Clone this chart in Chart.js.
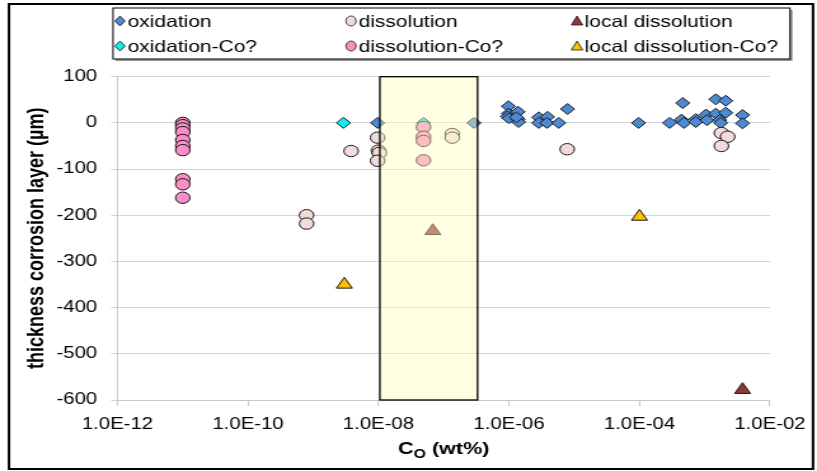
<!DOCTYPE html>
<html>
<head>
<meta charset="utf-8">
<script src="https://cdn.jsdelivr.net/npm/chart.js@4.4.1/dist/chart.umd.min.js"></script>
<style>
  html, body { margin: 0; padding: 0; background: #fff; }
  #chart { display: block; }
</style>
</head>
<body>
<!-- canvas is drawn narrow and widened by CSS, like the exported sheet -->
<canvas id="chart" width="643" height="471" style="width:817px;height:471px"></canvas>
<script>
// ─── data: [C_O (wt%), thickness (µm)] ───
const oxidation = [
  [9.7e-9, 0], [2.9e-7, 0],
  [9.8e-7, 36], [9.8e-7, 20], [9.5e-7, 14], [1.0e-6, 10],
  [1.38e-6, 24], [1.38e-6, 8], [1.4e-6, 2], [1.3e-6, 12],
  [2.86e-6, 12], [2.86e-6, 0], [3.9e-6, 13], [3.8e-6, 0], [5.8e-6, 0], [7.9e-6, 30],
  [9.7e-5, 0], [2.9e-4, 0], [4.6e-4, 43], [4.4e-4, 7], [4.8e-4, 0],
  [7.3e-4, 8], [7.3e-4, 2], [1.05e-3, 18], [1.08e-3, 6],
  [1.48e-3, 51], [1.48e-3, 20], [1.7e-3, 6], [1.75e-3, 0],
  [2.1e-3, 48], [2.1e-3, 22], [3.8e-3, 17], [3.8e-3, -1]
];
const oxidationCo = [[2.9e-9, 0], [4.9e-8, 0]];
const dissolution = [
  [7.9e-10, -200], [7.9e-10, -218], [3.8e-9, -61],
  [9.7e-9, -32], [1.0e-8, -60], [1.03e-8, -65], [9.7e-9, -82],
  [1.35e-7, -24], [1.35e-7, -32], [7.8e-6, -57],
  [1.8e-3, -22], [2.25e-3, -30], [1.8e-3, -50]
];
const dissolutionCo = [
  [1e-11, 0], [1e-11, -5], [1e-11, -12], [1e-11, -20], [1e-11, -37],
  [1e-11, -50], [1e-11, -59], [1e-11, -122], [1e-11, -133], [1e-11, -162],
  [4.9e-8, -9], [4.9e-8, -30], [4.9e-8, -39], [4.9e-8, -81]
];
const localDissolution = [[6.8e-8, -234], [3.8e-3, -578]];
const localDissolutionCo = [[3e-9, -350], [1e-4, -203]];

const xTicks = [1e-12, 1e-10, 1e-8, 1e-6, 1e-4, 1e-2];
const yMin = -600, yMax = 100, yStep = 100;
const bandCo = [1.05e-8, 3.3e-7];   // highlighted C_O window

const xTitle = ['C', 'O', ' (wt%)'];
const yTitle = 'thickness corrosion layer (µm)';

// ─── layout ───
const SX = 817 / 643;               // horizontal stretch applied by CSS
const FONT = '"Liberation Sans", Arial, sans-serif';
Chart.defaults.font.family = FONT;
Chart.defaults.color = '#000';

const pts = arr => arr.map(([x, y]) => ({ x, y }));

function sci(v) {
  const e = Math.round(Math.log10(v));
  const m = v / Math.pow(10, e);
  return m.toFixed(1) + 'E' + (e < 0 ? '-' : '+') + String(Math.abs(e)).padStart(2, '0');
}

function series(label, data, style, fill, r, order) {
  return {
    label, data: pts(data), pointStyle: style, pointRadius: r, pointHoverRadius: r,
    backgroundColor: fill, borderColor: '#1a1a1a', borderWidth: 1, showLine: false, order
  };
}

const datasets = [
  series('oxidation', oxidation, 'rectRot', '#4e8ad4', 5.5, 6),
  series('dissolution', dissolution, 'circle', '#f2dcdb', 5.7, 4),
  series('local dissolution', localDissolution, 'triangle', '#953735', 7.2, 2),
  series('oxidation-Co?', oxidationCo, 'rectRot', '#12eef0', 5.5, 5),
  series('dissolution-Co?', dissolutionCo, 'circle', '#f98fc6', 5.7, 3),
  series('local dissolution-Co?', localDissolutionCo, 'triangle', '#ffc000', 7.2, 1)
];

// markers for the hand-made legend
function marker(ctx, style, x, y, fill) {
  ctx.save();
  ctx.fillStyle = fill; ctx.strokeStyle = '#1a1a1a'; ctx.lineWidth = 0.8;
  ctx.beginPath();
  if (style === 'circle') {
    ctx.ellipse(x, y, 4, 5, 0, 0, Math.PI * 2);
  } else if (style === 'rectRot') {
    ctx.moveTo(x, y - 5); ctx.lineTo(x + 4, y); ctx.lineTo(x, y + 5); ctx.lineTo(x - 4, y);
    ctx.closePath();
  } else {
    ctx.moveTo(x, y - 5); ctx.lineTo(x + 4.5, y + 4); ctx.lineTo(x - 4.5, y + 4);
    ctx.closePath();
  }
  ctx.fill(); ctx.stroke();
  ctx.restore();
}

const decor = {
  id: 'decor',
  beforeDraw(chart) {
    const { ctx, width, height } = chart;
    ctx.save();
    ctx.fillStyle = '#fff';
    ctx.fillRect(0, 0, width, height);
    ctx.strokeStyle = '#000'; ctx.lineWidth = 2;
    ctx.strokeRect(9 / SX, 4, 804 / SX, 465);
    ctx.restore();
  },
  afterDatasetsDraw(chart) {
    const { ctx, scales: { x, y } } = chart;
    const l = x.getPixelForValue(bandCo[0]), r = x.getPixelForValue(bandCo[1]);
    const t = y.getPixelForValue(yMax), b = y.getPixelForValue(yMin);
    ctx.save();
    ctx.fillStyle = 'rgba(255,255,190,0.42)';
    ctx.fillRect(l, t, r - l, b - t);
    ctx.strokeStyle = '#000'; ctx.lineWidth = 1.3;
    ctx.strokeRect(l, t, r - l, b - t);
    ctx.restore();
  },
  afterDraw(chart) {
    const { ctx, chartArea: area } = chart;
    ctx.save();
    // legend box with shadow
    const bx = 113 / SX, by = 8, bw = 677 / SX, bh = 51;
    ctx.fillStyle = '#9a9a9a';
    ctx.fillRect(bx + 2, by + 2, bw, bh);
    ctx.fillStyle = '#fff';
    ctx.fillRect(bx, by, bw, bh);
    ctx.strokeStyle = '#000'; ctx.lineWidth = 1;
    ctx.strokeRect(bx, by, bw, bh);
    const cols = [120, 351, 577].map(v => v / SX);
    const rows = [21, 46];
    ctx.font = '16.5px ' + FONT;
    ctx.textBaseline = 'middle';
    ctx.fillStyle = '#000';
    chart.data.datasets.forEach((ds, i) => {
      const cx = cols[i % 3], cy = rows[Math.floor(i / 3)];
      marker(ctx, ds.pointStyle, cx, cy, ds.backgroundColor);
      ctx.fillStyle = '#000';
      ctx.fillText(ds.label, cx + 6, cy + 1);
    });
    // x-axis title with subscript
    const big = 'bold 17px ' + FONT, small = 'bold 12.5px ' + FONT;
    ctx.font = big; const w0 = ctx.measureText(xTitle[0]).width, w2 = ctx.measureText(xTitle[2]).width;
    ctx.font = small; const w1 = ctx.measureText(xTitle[1]).width;
    let tx = (area.left + area.right) / 2 - (w0 + w1 + w2) / 2;
    ctx.textBaseline = 'alphabetic';
    ctx.font = big; ctx.fillText(xTitle[0], tx, 454); tx += w0;
    ctx.font = small; ctx.fillText(xTitle[1], tx, 458); tx += w1;
    ctx.font = big; ctx.fillText(xTitle[2], tx, 454);
    ctx.restore();
  }
};

new Chart(document.getElementById('chart'), {
  type: 'scatter',
  data: { datasets },
  plugins: [decor],
  options: {
    responsive: false,
    animation: false,
    events: [],
    layout: { padding: { left: 8, right: 643 - 774 / SX, top: 76.7, bottom: 0 } },
    plugins: { legend: { display: false }, tooltip: { enabled: false } },
    scales: {
      x: {
        type: 'logarithmic', min: xTicks[0], max: xTicks[xTicks.length - 1],
        afterBuildTicks: s => { s.ticks = xTicks.map(v => ({ value: v })); },
        afterFit: s => { s.height = 71; },
        grid: { drawOnChartArea: false, tickLength: 6, color: '#c8c8c8' },
        border: { color: '#c8c8c8' },
        ticks: { callback: v => sci(v), font: { size: 16 }, padding: 9, maxRotation: 0, autoSkip: false }
      },
      y: {
        min: yMin, max: yMax,
        afterFit: s => { s.width = 117.5 / SX - 8; },
        grid: { color: '#d4d4d4', tickLength: 5 },
        border: { color: '#c8c8c8' },
        ticks: { stepSize: yStep, font: { size: 16 }, padding: 11 },
        title: { display: true, text: yTitle, font: { size: 18, weight: 'bold' }, padding: { top: 10, bottom: 0 } }
      }
    }
  }
});
</script>
</body>
</html>
